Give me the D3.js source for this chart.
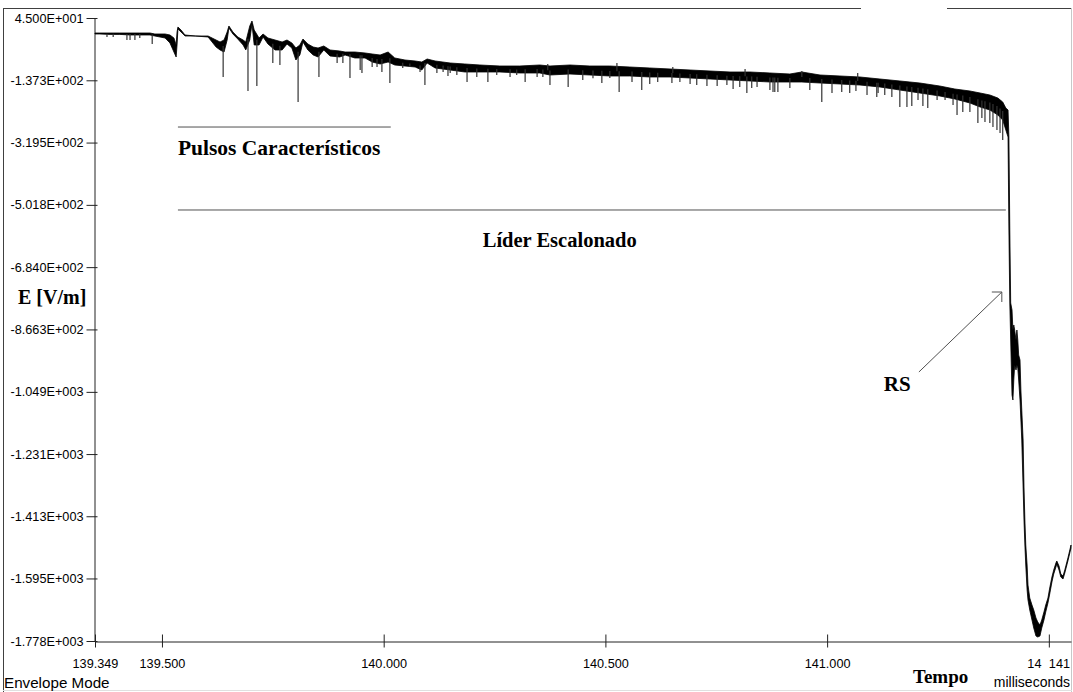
<!DOCTYPE html>
<html><head><meta charset="utf-8">
<script src="https://cdn.jsdelivr.net/npm/d3@7"></script>
<style>body{margin:0;background:#fff;} svg{display:block;}</style>
</head><body>
<svg id="c" width="1073" height="692"></svg>
<script>
// ---- axis ticks ----
const yTickValues = [45, -137.3, -319.5, -501.8, -684.0, -866.3, -1049, -1231, -1413, -1595, -1778];
const yTickLabels = ["4.500E+001","-1.373E+002","-3.195E+002","-5.018E+002","-6.840E+002","-8.663E+002","-1.049E+003","-1.231E+003","-1.413E+003","-1.595E+003","-1.778E+003"];
const xTickValues = [139.349, 139.5, 140.0, 140.5, 141.0, 141.5];
const xTickLabels = ["139.349","139.500","140.000","140.500","141.000","14"];
const xDomain = [139.349, 141.550];
const yDomain = [-1778, 45];

// ---- envelope of the E-field record (ms, V/m) ----
const bandTime = [139.349,139.360,139.383,139.405,139.428,139.450,139.473,139.484,139.507,139.518,139.527,139.532,139.534,139.536,139.543,139.552,139.575,139.604,139.613,139.622,139.631,139.640,139.647,139.651,139.660,139.671,139.683,139.689,139.698,139.703,139.708,139.719,139.728,139.739,139.755,139.771,139.782,139.793,139.802,139.811,139.818,139.829,139.841,139.852,139.865,139.879,139.901,139.913,139.935,139.958,139.974,139.992,140.010,140.025,140.048,140.071,140.086,140.098,140.116,140.150,140.183,140.217,140.262,140.307,140.352,140.375,140.420,140.465,140.510,140.555,140.600,140.646,140.691,140.736,140.781,140.826,140.871,140.916,140.943,140.984,141.029,141.074,141.119,141.164,141.209,141.254,141.288,141.322,141.345,141.367,141.385,141.396,141.403,141.408,141.410,141.412,141.414,141.417,141.419,141.421,141.423,141.426,141.428,141.430,141.432,141.435,141.437,141.439,141.442,141.444,141.446,141.448,141.451,141.453,141.457,141.462,141.466,141.471,141.475,141.480,141.484,141.489,141.493,141.498,141.502,141.507,141.511,141.516,141.518,141.523,141.527,141.532,141.536,141.543,141.550];
const bandUpper = [1.1,1.1,1.1,1.1,1.1,1.1,1.1,-1.8,-1.8,-4.7,-13.5,-34.0,4.0,18.7,9.9,-4.7,-7.7,-7.7,-13.5,-19.4,-25.2,-19.4,4.0,21.6,4.0,-10.6,-19.4,-25.2,21.6,36.2,9.9,-13.5,-1.8,-13.5,-19.4,-25.2,-19.4,-28.1,-42.8,-34.0,-16.5,-31.1,-39.9,-42.8,-36.9,-48.6,-51.6,-54.5,-54.5,-57.4,-60.3,-63.3,-54.5,-72.0,-77.9,-80.8,-83.8,-75.0,-80.8,-86.7,-89.6,-92.5,-95.5,-95.5,-92.5,-95.5,-92.5,-95.5,-95.5,-98.4,-101.3,-104.2,-107.2,-110.1,-113.0,-113.0,-115.9,-118.9,-113.0,-121.8,-124.7,-127.6,-133.5,-139.3,-145.2,-154.0,-162.8,-168.6,-174.5,-180.3,-189.1,-200.8,-218.4,-224.2,-303.2,-575.4,-789.0,-809.5,-868.0,-853.3,-868.0,-897.2,-868.0,-897.2,-941.1,-955.8,-1043.5,-1102.1,-1189.9,-1327.4,-1424.0,-1497.1,-1555.6,-1614.2,-1652.2,-1672.7,-1687.3,-1710.7,-1722.4,-1731.2,-1716.6,-1693.2,-1672.7,-1652.2,-1622.9,-1590.7,-1570.3,-1549.8,-1543.9,-1558.6,-1582.0,-1587.8,-1570.3,-1535.1,-1497.1];
const bandLower = [-1.8,-1.8,-3.0,-3.0,-4.7,-4.7,-4.7,-7.7,-13.5,-28.0,-54.5,-69.1,-34.0,12.8,4.0,-7.7,-7.7,-10.6,-25.2,-39.9,-48.6,-54.5,-19.4,15.7,-1.8,-16.5,-34.0,-48.6,-19.4,27.4,-34.0,-34.0,-10.6,-31.1,-48.6,-48.6,-31.1,-42.8,-77.9,-63.3,-25.2,-48.6,-63.3,-69.1,-48.6,-66.2,-69.1,-63.3,-72.0,-72.0,-83.8,-89.6,-83.8,-92.5,-95.5,-98.4,-107.2,-86.7,-101.3,-107.2,-113.0,-113.0,-113.0,-115.9,-115.9,-121.8,-118.9,-121.8,-124.7,-124.7,-127.6,-127.6,-130.6,-133.5,-136.4,-139.3,-142.3,-142.3,-142.3,-145.2,-148.1,-151.1,-156.9,-165.7,-174.5,-183.2,-192.0,-203.7,-215.4,-224.2,-238.8,-253.5,-282.7,-303.2,-575.4,-789.0,-897.2,-1058.2,-1072.8,-1014.3,-970.4,-985.0,-970.4,-979.2,-1014.3,-1072.8,-1131.3,-1189.9,-1327.4,-1424.0,-1497.1,-1555.6,-1628.8,-1658.0,-1687.3,-1716.6,-1740.0,-1763.4,-1766.3,-1763.4,-1740.0,-1716.6,-1693.2,-1666.8,-1640.5,-1605.4,-1582.0,-1561.5,-1552.7,-1570.3,-1590.7,-1596.6,-1579.1,-1543.9,-1505.9];

// ---- narrow pulses (ms, V/m) ----
const spikeTime = [139.376,139.390,139.421,139.428,139.439,139.450,139.478,139.638,139.694,139.714,139.750,139.766,139.807,139.854,139.895,139.908,139.924,139.947,139.951,139.974,139.985,139.996,140.014,140.043,140.059,140.082,140.093,140.120,140.134,140.145,140.150,140.165,140.188,140.210,140.235,140.255,140.285,140.300,140.319,140.346,140.359,140.370,140.375,140.416,140.449,140.472,140.492,140.510,140.526,140.531,140.560,140.582,140.600,140.618,140.650,140.652,140.668,140.691,140.706,140.729,140.752,140.774,140.788,140.803,140.815,140.819,140.830,140.842,140.871,140.878,140.882,140.889,140.916,140.943,140.961,140.988,141.011,141.033,141.051,141.065,141.069,141.090,141.112,141.115,141.130,141.146,141.164,141.180,141.191,141.205,141.216,141.227,141.248,141.266,141.284,141.293,141.306,141.322,141.340,141.349,141.356,141.367,141.374,141.383,141.390,141.396];
const spikeValue = [-10.6,-10.6,-19.4,-19.4,-19.4,-13.5,-31.1,-127.6,-168.6,-154.0,-86.7,-92.5,-200.8,-127.6,-86.7,-86.7,-130.6,-107.2,-115.9,-98.4,-98.4,-113.0,-145.2,-101.3,-98.4,-113.0,-151.1,-115.9,-113.0,-124.7,-115.9,-121.8,-142.3,-127.6,-142.3,-121.8,-127.6,-121.8,-142.3,-127.6,-127.6,-89.6,-151.1,-156.9,-136.4,-131.5,-145.2,-130.6,-86.7,-171.5,-142.3,-165.7,-148.1,-142.3,-145.2,-98.4,-142.3,-148.1,-151.1,-154.0,-154.0,-151.1,-162.8,-156.9,-104.2,-174.5,-159.8,-156.9,-165.7,-171.5,-171.5,-171.5,-159.8,-110.1,-165.7,-200.8,-174.5,-171.5,-174.5,-168.6,-115.9,-180.3,-186.2,-174.5,-180.3,-186.2,-215.4,-215.4,-212.5,-195.0,-212.5,-218.4,-195.0,-195.0,-209.6,-238.8,-230.1,-230.1,-262.3,-247.6,-259.3,-262.3,-274.0,-282.7,-291.5,-312.0];

// ---- annotations (data units) ----
const pulsosLine = {t0: 139.536, t1: 140.016, v: -274.0};
const pulsosText = {t: 139.536, v: -355.9, label: "Pulsos Característicos"};
const liderLine = {t0: 139.536, t1: 141.403, v: -516.8};
const liderText = {t: 140.397, v: -625.1, label: "Líder Escalonado"};
const rsText = {t: 141.128, v: -1046.5, label: "RS"};
const rsArrow = {t0: 141.207, v0: -990.9, t1: 141.394, v1: -756.8};

const svg = d3.select("#c");
const x = d3.scaleLinear().domain(xDomain).range([95, 1071]);
const y = d3.scaleLinear().domain(yDomain).range([641, 18]);

// frame
const frameCol = "#404040";
svg.append("line").attr("x1",3.5).attr("x2",861).attr("y1",8.5).attr("y2",8.5).attr("stroke",frameCol);
svg.append("line").attr("x1",947).attr("x2",1071).attr("y1",8.5).attr("y2",8.5).attr("stroke",frameCol);
svg.append("line").attr("x1",3.5).attr("x2",3.5).attr("y1",8).attr("y2",692).attr("stroke",frameCol);
svg.append("line").attr("x1",1071.5).attr("x2",1071.5).attr("y1",8).attr("y2",692).attr("stroke","#c8c8c8");
svg.append("line").attr("x1",3).attr("x2",1072).attr("y1",690.5).attr("y2",690.5).attr("stroke","#e0e0e0");

const tickFont = "'Liberation Sans', Arial, sans-serif";
const serif = "'Liberation Serif', 'Times New Roman', serif";

// y axis
const gy = svg.append("g").attr("transform","translate(94.5,0)")
  .call(d3.axisLeft(y).tickValues(yTickValues).tickFormat((d,i)=>yTickLabels[i]).tickSize(8).tickSizeOuter(0).tickPadding(3));
gy.selectAll(".tick line").attr("x1",3).attr("stroke","#222");
gy.select(".domain").attr("stroke","#222");
gy.selectAll("text").attr("font-family",tickFont).attr("font-size",12.7).attr("fill","#000");

// x axis
const gx = svg.append("g").attr("transform","translate(0,641.5)")
  .call(d3.axisBottom(x).tickValues(xTickValues).tickFormat((d,i)=>xTickLabels[i]).tickSize(6).tickSizeOuter(0));
gx.selectAll(".tick line").attr("y1",-7).attr("stroke","#222");
gx.select(".domain").attr("stroke","#222");
gx.selectAll("text").attr("font-family",tickFont).attr("font-size",12.7).attr("fill","#000").attr("y",26).attr("dy",0);
gx.selectAll(".tick").filter(d=>d===141.5).select("text").attr("text-anchor","start").attr("x",-22);
svg.append("text").attr("x",1070).attr("y",667.5).attr("text-anchor","end")
  .attr("font-family",tickFont).attr("font-size",12.7).text("141");

// data: envelope band
const area = d3.area().x((d,i)=>x(bandTime[i])).y0((d,i)=>y(bandLower[i])).y1((d,i)=>y(bandUpper[i]));
svg.append("path").datum(bandTime).attr("d",area).attr("fill","#000").attr("stroke","#000").attr("stroke-width",0.8).attr("stroke-linejoin","round");

// data: spikes
const bis = d3.bisector(d=>d).left;
function bandMid(t){
  const i = Math.max(1, Math.min(bandTime.length-1, bis(bandTime,t)));
  const a = bandTime[i-1], b = bandTime[i], f = (t-a)/(b-a);
  const ua = (bandUpper[i-1]+bandLower[i-1])/2, ub = (bandUpper[i]+bandLower[i])/2;
  return ua + (ub-ua)*f;
}
svg.append("g").selectAll("line").data(spikeTime).join("line")
  .attr("x1",t=>x(t)).attr("x2",t=>x(t))
  .attr("y1",t=>y(bandMid(t))).attr("y2",(t,i)=>y(spikeValue[i]))
  .attr("stroke","#333").attr("stroke-width",1.2);

// annotations
const annCol = "#505050";
svg.append("line").attr("x1",x(pulsosLine.t0)).attr("x2",x(pulsosLine.t1)).attr("y1",y(pulsosLine.v)).attr("y2",y(pulsosLine.v)).attr("stroke",annCol);
svg.append("line").attr("x1",x(liderLine.t0)).attr("x2",x(liderLine.t1)).attr("y1",y(liderLine.v)).attr("y2",y(liderLine.v)).attr("stroke",annCol);
svg.append("text").attr("x",x(pulsosText.t)).attr("y",y(pulsosText.v)).attr("font-family",serif).attr("font-weight","bold").attr("font-size",21.5).text(pulsosText.label);
svg.append("text").attr("x",x(liderText.t)).attr("y",y(liderText.v)).attr("text-anchor","middle").attr("font-family",serif).attr("font-weight","bold").attr("font-size",20.5).text(liderText.label);
svg.append("text").attr("x",x(rsText.t)).attr("y",y(rsText.v)).attr("font-family",serif).attr("font-weight","bold").attr("font-size",21).text(rsText.label);
const ax0 = x(rsArrow.t0), ay0 = y(rsArrow.v0), ax1 = x(rsArrow.t1), ay1 = y(rsArrow.v1);
svg.append("path").attr("d",`M${ax0},${ay0}L${ax1},${ay1}M${ax1-10},${ay1}L${ax1},${ay1}L${ax1},${ay1+10}`).attr("fill","none").attr("stroke",annCol);

// axis titles
svg.append("text").attr("x",18).attr("y",304).attr("font-family",serif).attr("font-weight","bold").attr("font-size",20).text("E [V/m]");
svg.append("text").attr("x",913).attr("y",683).attr("font-family",serif).attr("font-weight","bold").attr("font-size",19).text("Tempo");
svg.append("text").attr("x",1070).attr("y",687).attr("text-anchor","end").attr("font-family",tickFont).attr("font-size",14).text("milliseconds");
svg.append("text").attr("x",4).attr("y",688).attr("font-family",tickFont).attr("font-size",15.2).text("Envelope Mode");
</script>
</body></html>
